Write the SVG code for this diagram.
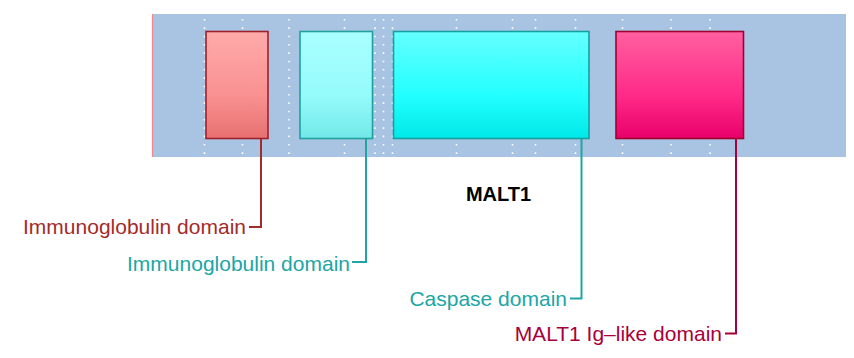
<svg xmlns="http://www.w3.org/2000/svg" width="854" height="358" viewBox="0 0 854 358">
<style>
.lbl{font-family:"Liberation Sans",Arial,sans-serif;font-size:21px}
.title{font-family:"Liberation Sans",Arial,sans-serif;font-size:20px;font-weight:bold;fill:#000}
.grid{stroke:#ffffff;stroke-width:1.6;stroke-dasharray:1.6 6.73;fill:none}
.conn{fill:none;stroke-width:2}
.box{stroke-width:1.6}
</style>
<defs>
<linearGradient id="g1" x1="0" y1="0" x2="0" y2="1"><stop offset="0" stop-color="#ffaaaa"/><stop offset="0.6" stop-color="#f99191"/><stop offset="1" stop-color="#e87070"/></linearGradient>
<linearGradient id="g2" x1="0" y1="0" x2="0" y2="1"><stop offset="0" stop-color="#aaffff"/><stop offset="0.6" stop-color="#95fbfb"/><stop offset="1" stop-color="#72e8e8"/></linearGradient>
<linearGradient id="g3" x1="0" y1="0" x2="0" y2="1"><stop offset="0" stop-color="#66ffff"/><stop offset="0.6" stop-color="#22ffff"/><stop offset="1" stop-color="#00e8e8"/></linearGradient>
<linearGradient id="g4" x1="0" y1="0" x2="0" y2="1"><stop offset="0" stop-color="#ff60a0"/><stop offset="0.6" stop-color="#ff2a88"/><stop offset="1" stop-color="#e8006a"/></linearGradient>
</defs>
<g id="band">
<rect x="152" y="14" width="694" height="143" fill="#a8c4e2"/>
<line x1="152.5" y1="14" x2="152.5" y2="157" stroke="#f08a8a" stroke-width="1.2"/>
<g class="grid">
<line x1="204.5" y1="19" x2="204.5" y2="157"/>
<line x1="242.5" y1="19" x2="242.5" y2="157"/>
<line x1="289" y1="19" x2="289" y2="157"/>
<line x1="344.5" y1="19" x2="344.5" y2="157"/>
<line x1="375" y1="19" x2="375" y2="157"/>
<line x1="383.5" y1="19" x2="383.5" y2="157"/>
<line x1="392.5" y1="19" x2="392.5" y2="157"/>
<line x1="456.5" y1="19" x2="456.5" y2="157"/>
<line x1="512.5" y1="19" x2="512.5" y2="157"/>
<line x1="535.5" y1="19" x2="535.5" y2="157"/>
<line x1="575.5" y1="19" x2="575.5" y2="157"/>
<line x1="622.5" y1="19" x2="622.5" y2="157"/>
<line x1="671" y1="19" x2="671" y2="157"/>
<line x1="710" y1="19" x2="710" y2="157"/>
</g>
</g>
<g id="connectors" class="conn">
<polyline points="261,139 261,227 249,227" stroke="#a52a2a"/>
<polyline points="366,139 366,262 352,262" stroke="#20a5a5"/>
<polyline points="581.5,139 581.5,298.5 570,298.5" stroke="#20a5a5"/>
<polyline points="736,139 736,333.5 725,333.5" stroke="#a8003a"/>
</g>
<g id="node1">
<rect class="box" x="206" y="31.5" width="62" height="107" fill="url(#g1)" stroke="#a0202a"/>
<text class="lbl" x="246" y="234" text-anchor="end" fill="#a52a2a">Immunoglobulin domain</text>
</g>
<g id="node2">
<rect class="box" x="300" y="31.5" width="72.5" height="107" fill="url(#g2)" stroke="#20a0a0"/>
<text class="lbl" x="350" y="270.5" text-anchor="end" fill="#20a5a5">Immunoglobulin domain</text>
</g>
<g id="node3">
<rect class="box" x="393.5" y="31.5" width="195.5" height="107" fill="url(#g3)" stroke="#12a0a0"/>
<text class="lbl" x="567" y="305.5" text-anchor="end" fill="#20a5a5">Caspase domain</text>
</g>
<g id="node4">
<rect class="box" x="616" y="31.5" width="127.5" height="107" fill="url(#g4)" stroke="#a00030"/>
<text class="lbl" x="722" y="341" text-anchor="end" fill="#a8003a">MALT1 Ig–like domain</text>
</g>
<g id="title">
<text class="title" x="498.5" y="201" text-anchor="middle">MALT1</text>
</g>
</svg>
